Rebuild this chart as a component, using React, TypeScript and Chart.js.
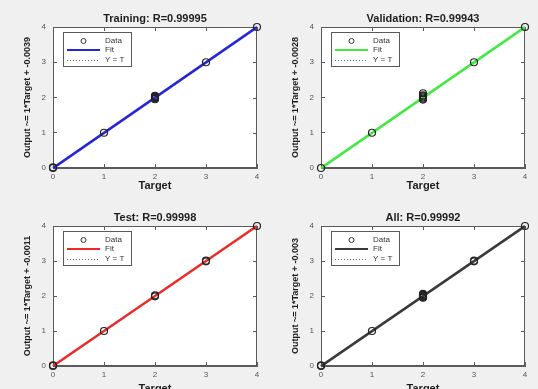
import React, { useEffect, useRef } from "react";
import { Chart, registerables } from "chart.js";

Chart.register(...registerables);

// ---- data ----
const panelTitles = [
  "Training: R=0.99995",
  "Validation: R=0.99943",
  "Test: R=0.99998",
  "All: R=0.99992",
];
const yAxisLabels = [
  "Output ~= 1*Target + -0.0039",
  "Output ~= 1*Target + -0.0028",
  "Output ~= 1*Target + -0.0011",
  "Output ~= 1*Target + -0.003",
];
const legendLabels = ["Data", "Fit", "Y = T"];
const fitColors = ["#2626d9", "#44e844", "#ec2a2a", "#3a3a3a"];
const tickValues = [0, 1, 2, 3, 4];

const trainTargets = [0, 0, 1, 2, 2, 2, 2, 2, 2, 3, 4];
const trainOutputs = [0.0, 0.02, 1.0, 1.95, 1.97, 1.99, 2.01, 2.03, 2.05, 3.0, 4.0];
const valTargets = [0, 1, 2, 2, 2, 2, 2, 2, 3, 4];
const valOutputs = [0.0, 1.0, 1.94, 1.97, 2.0, 2.03, 2.06, 2.12, 3.0, 4.0];
const testTargets = [0, 0, 1, 2, 2, 3, 3, 4];
const testOutputs = [0.0, 0.02, 1.0, 1.99, 2.02, 2.99, 3.01, 4.0];
const allTargets = [0, 0, 1, 2, 2, 2, 2, 2, 2, 3, 3, 4];
const allOutputs = [0.0, 0.02, 1.0, 1.95, 1.97, 1.99, 2.01, 2.03, 2.06, 2.99, 3.01, 4.0];

const fitX = [0, 4];
const trainFitY = [-0.0039, 3.9961];
const valFitY = [-0.0028, 3.9972];
const testFitY = [-0.0011, 3.9989];
const allFitY = [-0.003, 3.997];
const identityX = [0, 4];
const identityY = [0, 4];

const panelTargets = [trainTargets, valTargets, testTargets, allTargets];
const panelOutputs = [trainOutputs, valOutputs, testOutputs, allOutputs];
const panelFitY = [trainFitY, valFitY, testFitY, allFitY];

const FONT = "'Liberation Sans', Arial, sans-serif";

type PanelProps = {
  idx: number;
  left: number;
  top: number;
  width: number;
  height: number;
  padTop: number;
  xScaleH: number;
};

const toPts = (xs: number[], ys: number[]) => xs.map((x, i) => ({ x, y: ys[i] }));

function Panel({ idx, left, top, width, height, padTop, xScaleH }: PanelProps) {
  const ref = useRef<HTMLCanvasElement | null>(null);
  useEffect(() => {
    if (!ref.current) return;
    const color = fitColors[idx];
    const decor = {
      id: "matlabDecor",
      beforeDraw(chart: any) {
        const { ctx, chartArea: a } = chart;
        ctx.save();
        ctx.fillStyle = "#ffffff";
        ctx.fillRect(a.left, a.top, a.right - a.left, a.bottom - a.top);
        ctx.restore();
      },
      beforeDatasetsDraw(chart: any) {
        const { ctx, chartArea: a } = chart;
        ctx.save();
        ctx.strokeStyle = "#5a5a5a";
        ctx.lineWidth = 1;
        ctx.strokeRect(a.left + 0.5, a.top + 0.5, a.right - a.left - 1, a.bottom - a.top - 1);
        const xs = chart.scales.x;
        const ys = chart.scales.y;
        ctx.beginPath();
        tickValues.forEach((v) => {
          const px = Math.round(xs.getPixelForValue(v)) + 0.5;
          ctx.moveTo(px, a.top);
          ctx.lineTo(px, a.top + 4);
          const py = Math.round(ys.getPixelForValue(v)) + 0.5;
          ctx.moveTo(a.right, py);
          ctx.lineTo(a.right - 4, py);
        });
        ctx.stroke();
        ctx.fillStyle = "#1e1e1e";
        ctx.font = `bold 11px ${FONT}`;
        ctx.textAlign = "center";
        ctx.textBaseline = "middle";
        ctx.fillText(panelTitles[idx], (a.left + a.right) / 2, a.top - 8);
        ctx.restore();
      },
      afterDatasetsDraw(chart: any) {
        const { ctx, chartArea: a } = chart;
        const bx = a.left + 10;
        const by = a.top + 5;
        const bw = 69;
        const bh = 35;
        ctx.save();
        ctx.fillStyle = "#ffffff";
        ctx.fillRect(bx, by, bw, bh);
        ctx.strokeStyle = "#5a5a5a";
        ctx.lineWidth = 1;
        ctx.strokeRect(bx + 0.5, by + 0.5, bw - 1, bh - 1);
        const rows = [by + 9, by + 18, by + 28];
        const sx0 = bx + 4;
        const sx1 = bx + 37;
        ctx.strokeStyle = "#333";
        ctx.beginPath();
        ctx.arc((sx0 + sx1) / 2, rows[0], 2.5, 0, Math.PI * 2);
        ctx.stroke();
        ctx.strokeStyle = color;
        ctx.lineWidth = 2;
        ctx.beginPath();
        ctx.moveTo(sx0, rows[1]);
        ctx.lineTo(sx1, rows[1]);
        ctx.stroke();
        ctx.strokeStyle = "#666";
        ctx.lineWidth = 1;
        ctx.setLineDash([1, 2]);
        ctx.beginPath();
        ctx.moveTo(sx0, rows[2] + 0.5);
        ctx.lineTo(sx1, rows[2] + 0.5);
        ctx.stroke();
        ctx.setLineDash([]);
        ctx.fillStyle = "#333";
        ctx.font = `8px ${FONT}`;
        ctx.textAlign = "left";
        ctx.textBaseline = "middle";
        legendLabels.forEach((t, i) => ctx.fillText(t, bx + 42, rows[i]));
        ctx.restore();
      },
    };

    const chart = new Chart(ref.current, {
      type: "scatter",
      data: {
        datasets: [
          {
            label: legendLabels[0],
            data: toPts(panelTargets[idx], panelOutputs[idx]),
            showLine: false,
            pointStyle: "circle",
            pointRadius: 3.5,
            pointBorderWidth: 1.2,
            pointBorderColor: "#222",
            pointBackgroundColor: "rgba(0,0,0,0)",
            clip: false as any,
          },
          {
            label: legendLabels[1],
            data: toPts(fitX, panelFitY[idx]),
            showLine: true,
            pointRadius: 0,
            borderColor: color,
            borderWidth: 2.5,
            clip: false as any,
          },
          {
            label: legendLabels[2],
            data: toPts(identityX, identityY),
            showLine: true,
            pointRadius: 0,
            borderColor: "#555",
            borderWidth: 1,
            borderDash: [1, 2],
            clip: false as any,
          },
        ],
      },
      options: {
        responsive: false,
        animation: false,
        devicePixelRatio: 1,
        layout: { padding: { top: padTop, right: 12, left: 0, bottom: 0 } },
        plugins: { legend: { display: false }, tooltip: { enabled: false }, title: { display: false } },
        scales: {
          x: {
            type: "linear",
            min: 0,
            max: 4,
            afterBuildTicks: (s: any) => {
              s.ticks = tickValues.map((v) => ({ value: v }));
            },
            afterFit: (s: any) => {
              s.height = xScaleH;
            },
            ticks: { font: { size: 8, family: FONT }, color: "#555", padding: 8, maxRotation: 0 },
            grid: { drawOnChartArea: false, tickLength: -4, color: "#5a5a5a" },
            border: { display: true, color: "#5a5a5a" },
            title: {
              display: true,
              text: "Target",
              font: { size: 11, weight: "bold", family: FONT },
              color: "#1e1e1e",
              padding: { top: 0, bottom: xScaleH > 30 ? 4 : 2 },
            },
          },
          y: {
            type: "linear",
            min: 0,
            max: 4,
            afterBuildTicks: (s: any) => {
              s.ticks = tickValues.map((v) => ({ value: v }));
            },
            afterFit: (s: any) => {
              s.width = 53;
            },
            ticks: { font: { size: 8, family: FONT }, color: "#555", padding: 11 },
            grid: { drawOnChartArea: false, tickLength: -4, color: "#5a5a5a" },
            border: { display: true, color: "#5a5a5a" },
            title: {
              display: true,
              text: yAxisLabels[idx],
              font: { size: 9, weight: "bold", family: FONT },
              color: "#1e1e1e",
              padding: { top: 22, bottom: 0 },
            },
          },
        },
      },
      plugins: [decor],
    } as any);
    return () => chart.destroy();
  }, [idx, padTop, xScaleH]);

  return (
    <canvas
      ref={ref}
      width={width}
      height={height}
      style={{ position: "absolute", left, top, width, height, display: "block" }}
    />
  );
}

export default function App() {
  return (
    <div
      style={{
        position: "absolute",
        left: 0,
        top: 0,
        width: 538,
        height: 389,
        overflow: "hidden",
        background: "#f0f0f0",
      }}
    >
      <Panel idx={0} left={0} top={0} width={269} height={195} padTop={27} xScaleH={27} />
      <Panel idx={1} left={268} top={0} width={269} height={195} padTop={27} xScaleH={27} />
      <Panel idx={2} left={0} top={195} width={269} height={205} padTop={31} xScaleH={34} />
      <Panel idx={3} left={268} top={195} width={269} height={205} padTop={31} xScaleH={34} />
    </div>
  );
}
